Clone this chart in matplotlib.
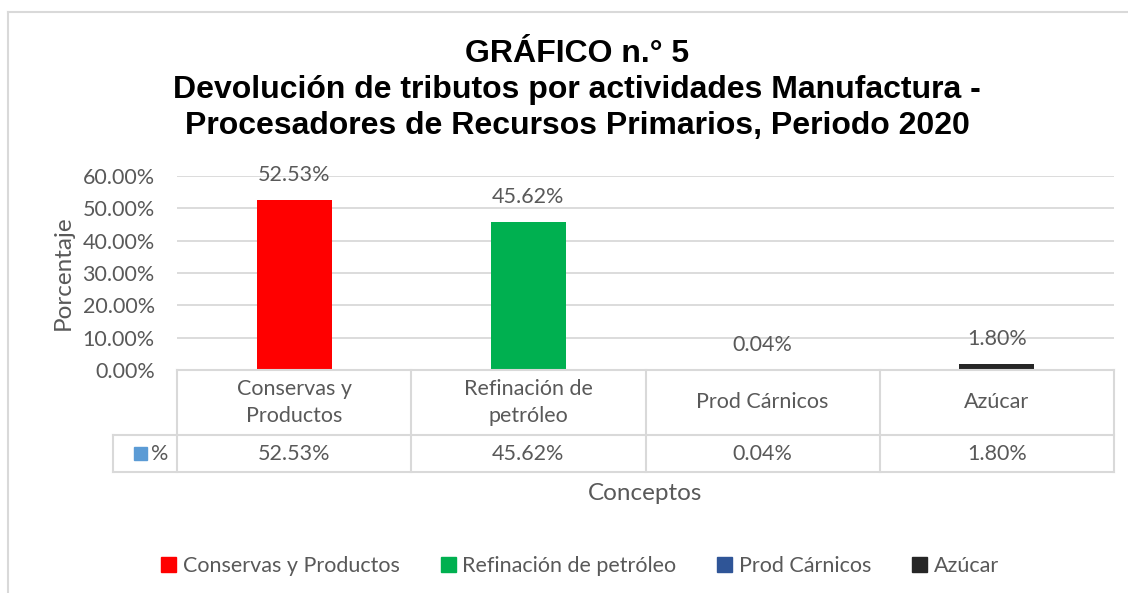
import matplotlib
matplotlib.use("Agg")
import matplotlib.pyplot as plt
import numpy as np
from matplotlib.transforms import blended_transform_factory
from matplotlib.patches import Rectangle
from matplotlib.lines import Line2D

# data
categorias = ["Conservas y Productos", "Refinación de petróleo", "Prod Cárnicos", "Azúcar"]
etiquetas_tabla = ["Conservas y\nProductos", "Refinación de\npetróleo", "Prod Cárnicos", "Azúcar"]
valores = [52.53, 45.62, 0.04, 1.80]
colores = ["#FF0000", "#00B050", "#2F5597", "#262626"]
yticks = [0, 10, 20, 30, 40, 50, 60]

titulo = "GRÁFICO n.° 5\nDevolución de tributos por actividades Manufactura -\nProcesadores de Recursos Primarios, Periodo 2020"

W, H = 1128, 593
body = ["Lato", "DejaVu Sans"]
gris = "#595959"
linea = "#D9D9D9"
fs = 15.5

fig = plt.figure(figsize=(W / 100, H / 100), dpi=100)

def fx(px):
    return px / W

def fy(py):
    return 1 - py / H

ax = fig.add_axes([fx(177), fy(370), fx(1114) - fx(177), fy(176) - fy(370)])
x = np.arange(len(categorias))
ax.bar(x, valores, width=0.32, color=colores, zorder=3)
for xi, v in zip(x, valores):
    ax.annotate(f"{v:.2f}%", (xi, v), xytext=(0, 18), textcoords="offset points",
                ha="center", va="center", fontsize=fs, color=gris, family=body)

ax.set_xlim(-0.5, len(categorias) - 0.5)
ax.set_ylim(0, 60)
ax.set_yticks(yticks)
ax.set_yticklabels([f"{t:.2f}%" for t in yticks], fontsize=fs, color=gris, family=body)
ax.set_xticks([])
ax.tick_params(axis="y", length=0, pad=16)
ax.grid(axis="y", color=linea, lw=1.3, zorder=0)
for s in ax.spines.values():
    s.set_visible(False)
ax.set_ylabel("Porcentaje", fontsize=17.5, color=gris, family=body, labelpad=6)

# data table below the axes
tr = blended_transform_factory(ax.transData, fig.transFigure)
y_top, y_mid, y_bot = fy(370), fy(435), fy(472)
bordes = np.arange(len(categorias) + 1) - 0.5
for b in bordes:
    fig.add_artist(Line2D([b, b], [y_top, y_bot], transform=tr, color=linea, lw=1.5))
fig.add_artist(Line2D([bordes[0], bordes[-1]], [y_top, y_top], transform=tr, color=linea, lw=1.5))
fig.add_artist(Line2D([fx(113), fx(1114)], [y_mid, y_mid], color=linea, lw=1.5))
fig.add_artist(Line2D([fx(113), fx(1114)], [y_bot, y_bot], color=linea, lw=1.5))
fig.add_artist(Line2D([fx(113), fx(113)], [y_mid, y_bot], color=linea, lw=1.5))
for xi, lab, v in zip(x, etiquetas_tabla, valores):
    fig.text(xi, (y_top + y_mid) / 2, lab, transform=tr, ha="center", va="center",
             fontsize=fs, color=gris, family=body, linespacing=1.4)
    fig.text(xi, (y_mid + y_bot) / 2, f"{v:.2f}%", transform=tr, ha="center", va="center",
             fontsize=fs, color=gris, family=body)
fig.add_artist(Rectangle((fx(134), fy(460)), fx(13), fy(447) - fy(460), color="#5B9BD5"))
fig.text(fx(151), (y_mid + y_bot) / 2, "%", ha="left", va="center", fontsize=fs,
         color=gris, family=body)

fig.text(fx(645), fy(494), "Conceptos", ha="center", va="center", fontsize=17.5,
         color=gris, family=body)

fig.text(fx(577), fy(90), titulo, ha="center", va="center", fontsize=23,
         fontweight="bold", family="Liberation Sans", linespacing=1.27)

handles = [Rectangle((0, 0), 1, 1, color=c) for c in colores]
fig.legend(handles, categorias, loc="center", bbox_to_anchor=(fx(580), fy(566)), ncol=4,
           frameon=False, handlelength=0.7, handleheight=0.7, handletextpad=0.3,
           columnspacing=1.9, prop={"family": body, "size": fs}, labelcolor=gris)

# outer chart border (left and top edges visible)
fig.add_artist(Line2D([fx(8), fx(8)], [0, fy(12)], color="#D9D9D9", lw=1.5))
fig.add_artist(Line2D([fx(8), 1], [fy(12), fy(12)], color="#D9D9D9", lw=1.5))

fig.savefig("out.png", dpi=100)
